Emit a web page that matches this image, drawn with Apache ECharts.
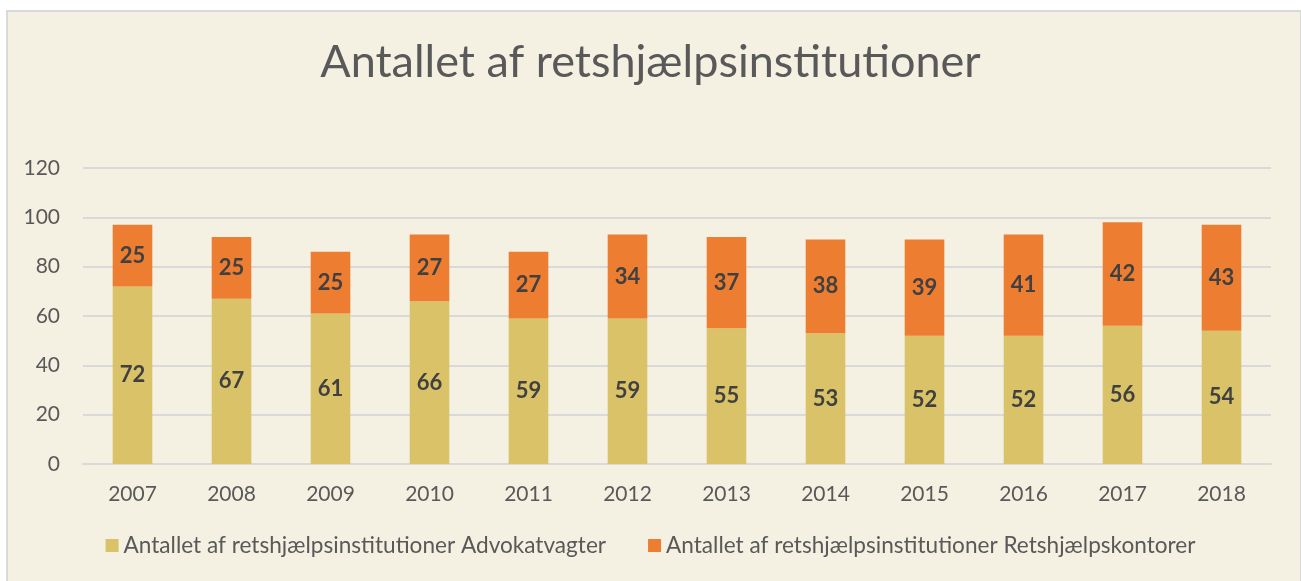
<!DOCTYPE html>
<html><head><meta charset="utf-8">
<script src="https://cdn.jsdelivr.net/npm/echarts@6/dist/echarts.min.js"></script>
<style>
html,body{margin:0;padding:0;background:#fff;width:1301px;height:581px;overflow:hidden;}
#bg{position:absolute;left:6px;top:10px;width:1292px;height:600px;background:#F4F0E2;border:2px solid #D9D9D9;}
#chart{position:absolute;left:0;top:0;width:1301px;height:581px;}
</style></head>
<body>
<div id="bg"></div>
<div id="chart"></div>
<script>
const years = ['2007','2008','2009','2010','2011','2012','2013','2014','2015','2016','2017','2018'];
const advokatvagter = [72,67,61,66,59,59,55,53,52,52,56,54];
const retshjaelpskontorer = [25,25,25,27,27,34,37,38,39,41,42,43];
const seriesNames = ['Antallet af retshjælpsinstitutioner Advokatvagter','Antallet af retshjælpsinstitutioner Retshjælpskontorer'];
const titleText = 'Antallet af retshjælpsinstitutioner';

const chart = echarts.init(document.getElementById('chart'));
const font = 'Lato, "Open Sans", sans-serif';
const labelStyle = {show:true, position:'inside', color:'#404040', fontWeight:'bold', fontSize:22, fontFamily:font};
chart.setOption({
  backgroundColor:'transparent',
  animation:false,
  title:{text:titleText, left:'center', top:35, textStyle:{color:'#595959', fontSize:45, fontWeight:'normal', fontFamily:font}},
  grid:{left:83, right:30, top:168, bottom:117, containLabel:false},
  legend:{bottom:19, left:'center', itemWidth:13, itemHeight:13, itemGap:42, icon:'rect',
    textStyle:{color:'#595959', fontSize:22.6, fontFamily:font}, data:seriesNames},
  xAxis:{type:'category', data:years, axisTick:{show:false},
    axisLine:{lineStyle:{color:'#D9D9D9', width:2}},
    axisLabel:{color:'#595959', fontSize:21, fontFamily:font, margin:20}},
  yAxis:{type:'value', min:0, max:120, interval:20,
    axisLine:{show:false}, axisTick:{show:false},
    splitLine:{lineStyle:{color:'#D9D9D9', width:2}},
    axisLabel:{color:'#595959', fontSize:21, fontFamily:font, margin:23}},
  series:[
    {name:seriesNames[0], type:'bar', stack:'a', data:advokatvagter, barWidth:'40%', itemStyle:{color:'#D9C267'}, label:labelStyle},
    {name:seriesNames[1], type:'bar', stack:'a', data:retshjaelpskontorer, barWidth:'40%', itemStyle:{color:'#ED7D31'}, label:labelStyle}
  ]
});
</script>
</body></html>
